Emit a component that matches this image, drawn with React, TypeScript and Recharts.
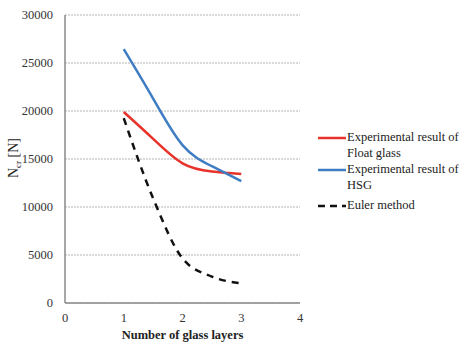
import { LineChart, Line, XAxis, YAxis, CartesianGrid } from 'recharts';

const layers = [1, 1.5, 2, 2.5, 3];
const floatGlass = [19900, 17100, 14550, 13700, 13450];
const hsg = [26450, 21300, 16450, 14250, 12700];
const euler = [19250, 10900, 4650, 2750, 2050];

const xTicks = [0, 1, 2, 3, 4];
const yTicks = [0, 5000, 10000, 15000, 20000, 25000, 30000];

const legendItems = [
  { lines: ['Experimental result of', 'Float glass'], color: '#E8332B', dash: false },
  { lines: ['Experimental result of', 'HSG'], color: '#3E7DC3', dash: false },
  { lines: ['Euler method'], color: '#111', dash: true },
];

const data = layers.map((n, i) => ({
  n,
  floatGlass: floatGlass[i],
  hsg: hsg[i],
  euler: euler[i],
}));

const FONT = 'Liberation Serif';

const YLabel = () => (
  <text
    transform="translate(18, 158) rotate(-90)"
    textAnchor="middle"
    fontFamily={FONT}
    fontSize={14}
    fill="#222"
  >
    N<tspan fontSize={9} dy={3}>cr</tspan>
    <tspan dy={-3}> [N]</tspan>
  </text>
);

function Legend() {
  return (
    <div
      style={{
        position: 'absolute',
        left: 318,
        top: 130,
        fontFamily: FONT,
        fontSize: 12.5,
        color: '#222',
        lineHeight: '15.5px',
      }}
    >
      {legendItems.map((item, i) => (
        <div key={i} style={{ display: 'flex', marginBottom: i === 0 ? 1 : 5 }}>
          <svg width={29} height={15} style={{ flexShrink: 0 }}>
            <line
              x1={0}
              y1={8}
              x2={28}
              y2={8}
              stroke={item.color}
              strokeWidth={2.5}
              strokeDasharray={item.dash ? '7 5' : undefined}
            />
          </svg>
          <div>
            {item.lines.map((l) => (
              <div key={l} style={{ whiteSpace: 'nowrap' }}>{l}</div>
            ))}
          </div>
        </div>
      ))}
    </div>
  );
}

export default function App() {
  return (
    <div style={{ position: 'absolute', left: 0, top: 0, width: 462, height: 343, background: '#fff' }}>
      <LineChart width={462} height={343} data={data} margin={{ top: 15, right: 162, left: 0, bottom: 0 }}>
        <CartesianGrid vertical={false} stroke="#b4b4b4" strokeDasharray="2 1" />
        <XAxis
          type="number"
          dataKey="n"
          domain={[0, 4]}
          ticks={xTicks}
          height={40}
          stroke="#8a8a8a"
          strokeWidth={1.5}
          tickLine={false}
          tickMargin={4}
          tick={{ fontFamily: FONT, fontSize: 12.5, fill: '#333' }}
          label={{
            value: 'Number of glass layers',
            position: 'insideBottom',
            offset: 4,
            style: { fontFamily: FONT, fontSize: 12.5, fontWeight: 'bold', fill: '#222' },
          }}
        />
        <YAxis
          domain={[0, 30000]}
          ticks={yTicks}
          width={65}
          stroke="#8a8a8a"
          strokeWidth={1.5}
          tickLine={false}
          tickMargin={6}
          tick={{ fontFamily: FONT, fontSize: 12.5, fill: '#333' }}
          label={<YLabel />}
        />
        <Line type="natural" dataKey="floatGlass" stroke="#E8332B" strokeWidth={2.5} dot={false} isAnimationActive={false} />
        <Line type="natural" dataKey="hsg" stroke="#3E7DC3" strokeWidth={2.5} dot={false} isAnimationActive={false} />
        <Line type="monotone" dataKey="euler" stroke="#111" strokeWidth={2.5} strokeDasharray="7 6" dot={false} isAnimationActive={false} />
      </LineChart>
      <Legend />
    </div>
  );
}
